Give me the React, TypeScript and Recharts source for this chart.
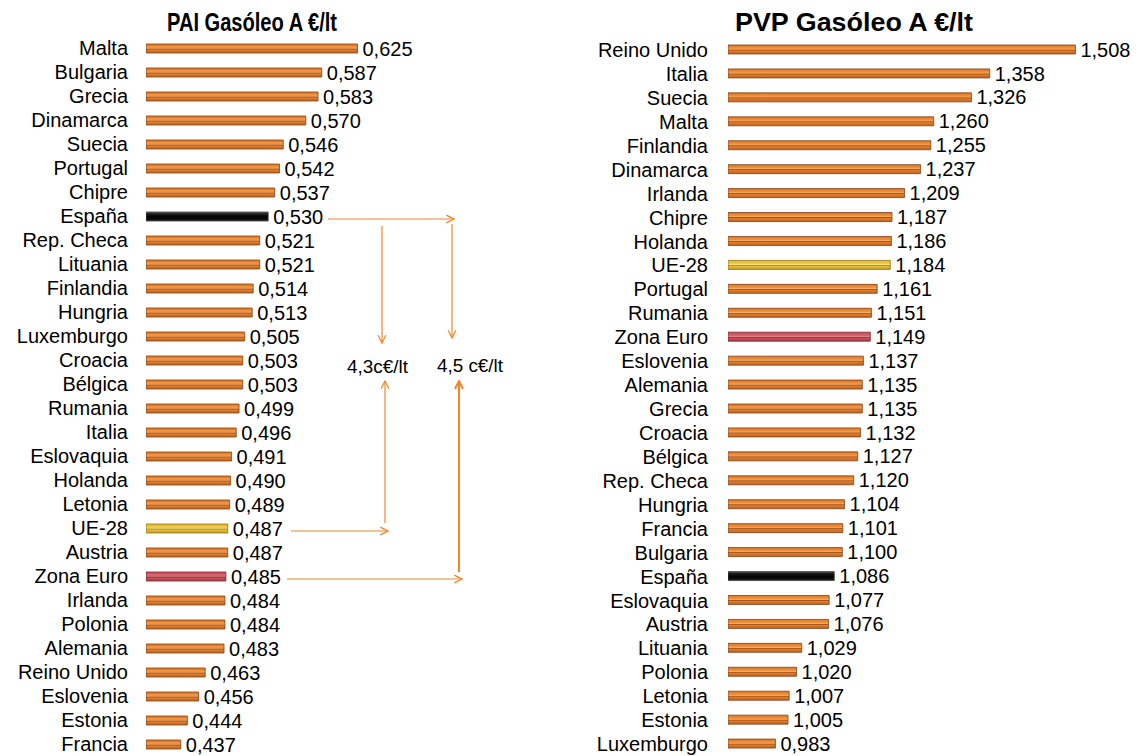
import { BarChart, Bar, XAxis, YAxis, Cell, LabelList } from "recharts";

const paiCountries = [
  "Malta", "Bulgaria", "Grecia", "Dinamarca", "Suecia", "Portugal", "Chipre",
  "España", "Rep. Checa", "Lituania", "Finlandia", "Hungria", "Luxemburgo",
  "Croacia", "Bélgica", "Rumania", "Italia", "Eslovaquia", "Holanda", "Letonia",
  "UE-28", "Austria", "Zona Euro", "Irlanda", "Polonia", "Alemania",
  "Reino Unido", "Eslovenia", "Estonia", "Francia",
];
const paiValues = [
  0.625, 0.587, 0.583, 0.57, 0.546, 0.542, 0.537, 0.53, 0.521, 0.521, 0.514,
  0.513, 0.505, 0.503, 0.503, 0.499, 0.496, 0.491, 0.49, 0.489, 0.487, 0.487,
  0.485, 0.484, 0.484, 0.483, 0.463, 0.456, 0.444, 0.437,
];

const pvpCountries = [
  "Reino Unido", "Italia", "Suecia", "Malta", "Finlandia", "Dinamarca",
  "Irlanda", "Chipre", "Holanda", "UE-28", "Portugal", "Rumania", "Zona Euro",
  "Eslovenia", "Alemania", "Grecia", "Croacia", "Bélgica", "Rep. Checa",
  "Hungria", "Francia", "Bulgaria", "España", "Eslovaquia", "Austria",
  "Lituania", "Polonia", "Letonia", "Estonia", "Luxemburgo",
];
const pvpValues = [
  1.508, 1.358, 1.326, 1.26, 1.255, 1.237, 1.209, 1.187, 1.186, 1.184, 1.161,
  1.151, 1.149, 1.137, 1.135, 1.135, 1.132, 1.127, 1.12, 1.104, 1.101, 1.1,
  1.086, 1.077, 1.076, 1.029, 1.02, 1.007, 1.005, 0.983,
];

const FONT = "'Liberation Sans', Arial, sans-serif";
const ARROW = "#F0862A";

// color por tipo de barra
const kindOf = (name: string) =>
  name === "España" ? "es" : name === "UE-28" ? "ue" : name === "Zona Euro" ? "ze" : "or";
const strokeOf: Record<string, string> = {
  or: "#7E4420",
  es: "#444444",
  ue: "#94741A",
  ze: "#7A2830",
};

const fmt = (v: any) => Number(v).toFixed(3).replace(".", ",");

function Gradients() {
  return (
    <svg width={0} height={0} style={{ position: "absolute" }}>
      <defs>
        <linearGradient id="g-or" x1="0" y1="0" x2="0" y2="1">
          <stop offset="0%" stopColor="#D77420" />
          <stop offset="18%" stopColor="#E8842C" />
          <stop offset="38%" stopColor="#EE9545" />
          <stop offset="47%" stopColor="#F4AE6C" />
          <stop offset="55%" stopColor="#A6501A" />
          <stop offset="66%" stopColor="#E27C28" />
          <stop offset="100%" stopColor="#C0621E" />
        </linearGradient>
        <linearGradient id="g-es" x1="0" y1="0" x2="0" y2="1">
          <stop offset="0%" stopColor="#666666" />
          <stop offset="22%" stopColor="#1A1A1A" />
          <stop offset="60%" stopColor="#000000" />
          <stop offset="100%" stopColor="#222222" />
        </linearGradient>
        <linearGradient id="g-ue" x1="0" y1="0" x2="0" y2="1">
          <stop offset="0%" stopColor="#DDB030" />
          <stop offset="18%" stopColor="#E8C23C" />
          <stop offset="38%" stopColor="#EFCB50" />
          <stop offset="47%" stopColor="#F8E282" />
          <stop offset="55%" stopColor="#B08C1E" />
          <stop offset="66%" stopColor="#E4BC36" />
          <stop offset="100%" stopColor="#C49E24" />
        </linearGradient>
        <linearGradient id="g-ze" x1="0" y1="0" x2="0" y2="1">
          <stop offset="0%" stopColor="#C24A55" />
          <stop offset="18%" stopColor="#CF5660" />
          <stop offset="38%" stopColor="#D9636C" />
          <stop offset="47%" stopColor="#E88A90" />
          <stop offset="55%" stopColor="#8A2A33" />
          <stop offset="66%" stopColor="#C94F5A" />
          <stop offset="100%" stopColor="#A83C46" />
        </linearGradient>
        <marker id="chev" viewBox="0 0 10 10" refX="9" refY="5" markerWidth="8" markerHeight="8" orient="auto">
          <path d="M1,1 L9,5 L1,9" fill="none" stroke={ARROW} strokeWidth="1.3" />
        </marker>
        <marker id="chev2" viewBox="0 0 10 10" refX="9" refY="5" markerWidth="5" markerHeight="5" orient="auto">
          <path d="M1,1 L9,5 L1,9" fill="none" stroke={ARROW} strokeWidth="2" />
        </marker>
      </defs>
    </svg>
  );
}

interface PanelProps {
  countries: string[];
  values: number[];
  domain: [number, number];
  width: number;
  axisWidth: number;
  top: number;
  gap: number;
}

function Panel({ countries, values, domain, width, axisWidth, top, gap }: PanelProps) {
  const data = countries.map((name, i) => ({ name, value: values[i] }));
  return (
    <BarChart
      layout="vertical"
      width={width}
      height={756}
      data={data}
      margin={{ top, right: 12, bottom: 0, left: 0 }}
    >
      <XAxis type="number" hide domain={domain} allowDataOverflow />
      <YAxis
        type="category"
        dataKey="name"
        width={axisWidth}
        interval={0}
        tickSize={0}
        tickMargin={gap}
        axisLine={false}
        tickLine={false}
        tick={{ fontSize: 20, fill: "#000", fontFamily: FONT }}
      />
      <Bar dataKey="value" barSize={9} isAnimationActive={false}>
        {data.map((d, i) => {
          const k = kindOf(d.name);
          return <Cell key={i} fill={`url(#g-${k})`} stroke={strokeOf[k]} strokeWidth={0.8} />;
        })}
        <LabelList
          dataKey="value"
          position="right"
          offset={5}
          formatter={fmt}
          style={{ fontSize: 20, fill: "#000", fontFamily: FONT }}
        />
      </Bar>
    </BarChart>
  );
}

export default function App() {
  return (
    <div
      style={{
        position: "relative",
        width: 1141,
        height: 756,
        marginTop: -8,
        marginLeft: -8,
        overflow: "hidden",
        background: "#fff",
        fontFamily: FONT,
      }}
    >
      <Gradients />
      <div style={{ position: "absolute", left: 0, top: 0 }}>
        <Panel
          countries={paiCountries}
          values={paiValues}
          domain={[0.4, 0.75]}
          width={487}
          axisWidth={146}
          top={36}
          gap={18}
        />
      </div>
      <div style={{ position: "absolute", left: 580, top: 0 }}>
        <Panel
          countries={pvpCountries}
          values={pvpValues}
          domain={[0.9, 1.6]}
          width={560}
          axisWidth={148}
          top={38}
          gap={20}
        />
      </div>
      <svg
        width={1141}
        height={756}
        style={{ position: "absolute", left: 0, top: 0, pointerEvents: "none" }}
      >
        <text x={167} y={31} fontSize={26} fontWeight="bold" fontFamily={FONT} textLength={170} lengthAdjust="spacingAndGlyphs">
          PAI Gasóleo A €/lt
        </text>
        <text x={735} y={31} fontSize={25} fontWeight="bold" fontFamily={FONT} textLength={238} lengthAdjust="spacingAndGlyphs">
          PVP Gasóleo A €/lt
        </text>
        {/* flechas España */}
        <line x1={328} y1={219} x2={454} y2={219} stroke={ARROW} strokeWidth={1.2} markerEnd="url(#chev)" />
        <line x1={382} y1={226} x2={382} y2={343} stroke={ARROW} strokeWidth={1.2} markerEnd="url(#chev)" />
        <line x1={452} y1={224} x2={452} y2={338} stroke={ARROW} strokeWidth={1.2} markerEnd="url(#chev)" />
        <text x={347} y={373} fontSize={18} fontFamily={FONT} textLength={61} lengthAdjust="spacingAndGlyphs">4,3c€/lt</text>
        <text x={437} y={372} fontSize={18} fontFamily={FONT} textLength={66} lengthAdjust="spacingAndGlyphs">4,5 c€/lt</text>
        {/* flechas UE-28 y Zona Euro */}
        <line x1={291} y1={531} x2={388} y2={531} stroke={ARROW} strokeWidth={1.2} markerEnd="url(#chev)" />
        <line x1={385} y1={523} x2={385} y2={381} stroke={ARROW} strokeWidth={1.2} markerEnd="url(#chev)" />
        <line x1={287} y1={579} x2={462} y2={579} stroke={ARROW} strokeWidth={1.2} markerEnd="url(#chev)" />
        <line x1={459} y1={572} x2={459} y2={381} stroke={ARROW} strokeWidth={2} markerEnd="url(#chev2)" />
      </svg>
    </div>
  );
}
